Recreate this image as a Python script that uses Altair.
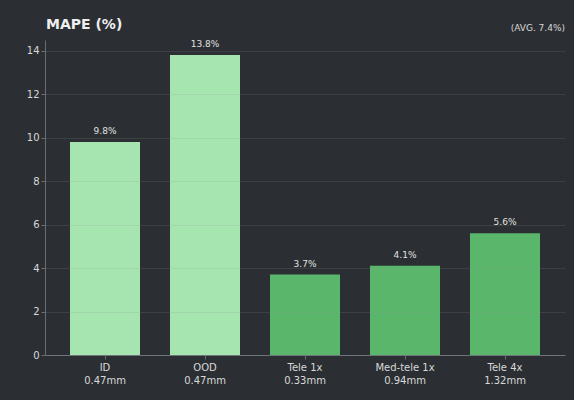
import altair as alt
import pandas as pd

categories = ["ID", "OOD", "Tele 1x", "Med-tele 1x", "Tele 4x"]
sizes = ["0.47mm", "0.47mm", "0.33mm", "0.94mm", "1.32mm"]
mape = [9.8, 13.8, 3.7, 4.1, 5.6]
groups = ["in", "in", "tele", "tele", "tele"]
title_text = "MAPE (%)"
avg_text = "(AVG. 7.4%)"

df = pd.DataFrame({
    "cat": [f"{c}|{s}" for c, s in zip(categories, sizes)],
    "mape": mape,
    "group": groups,
    "label": [f"{v:.1f}%" for v in mape],
})

FONT = "DejaVu Sans"
BG = "#2b2f33"

x = alt.X("cat:N", sort=None, title=None,
          scale=alt.Scale(paddingInner=0.3, paddingOuter=0.25),
          axis=alt.Axis(labelExpr="split(datum.label, '|')", labelAngle=0,
                        labelColor="#d8d8d8", labelFontSize=10, labelFont=FONT,
                        labelPadding=3, labelLineHeight=13,
                        domainColor="#6a6e72", tickColor="#6a6e72", tickSize=4,
                        grid=False))
y = alt.Y("mape:Q", title=None,
          scale=alt.Scale(domain=[0, 14.49], nice=False),
          axis=alt.Axis(values=[0, 2, 4, 6, 8, 10, 12, 14], labelColor="#d8d8d8",
                        labelFontSize=10, labelFont=FONT, domainColor="#6a6e72",
                        tickColor="#6a6e72", tickSize=4, gridColor="#8a8f94",
                        gridOpacity=0.18, gridWidth=1, zindex=1))

bars = alt.Chart(df).mark_bar().encode(
    x=x, y=y,
    color=alt.Color("group:N", legend=None,
                    scale=alt.Scale(domain=["in", "tele"], range=["#a6e5b0", "#5ab66b"])),
)
texts = alt.Chart(df).mark_text(dy=-6, fontSize=9, color="#e0e0e0", font=FONT,
                                baseline="bottom").encode(
    x=alt.X("cat:N", sort=None), y="mape:Q", text="label:N")

avg = alt.Chart(pd.DataFrame({"t": [avg_text]})).mark_text(
    fontSize=9, color="#d8d8d8", font=FONT, align="right", baseline="alphabetic").encode(
    x=alt.value(520), y=alt.value(-9), text="t:N")

title = alt.Chart(pd.DataFrame({"t": [title_text]})).mark_text(
    fontSize=14, fontWeight="bold", color="#eeeeee", font=FONT, align="left",
    baseline="alphabetic").encode(
    x=alt.value(1), y=alt.value(-11), text="t:N")

chart = alt.layer(bars, texts, avg, title).properties(
    width=520, height=315,
    background=BG,
    padding={"left": 45, "top": 40, "right": 9, "bottom": 45},
    autosize=alt.AutoSizeParams(type="none"),
).configure_view(stroke=None)

chart.save("out.html", embed_options={"renderer": "svg", "actions": False})
